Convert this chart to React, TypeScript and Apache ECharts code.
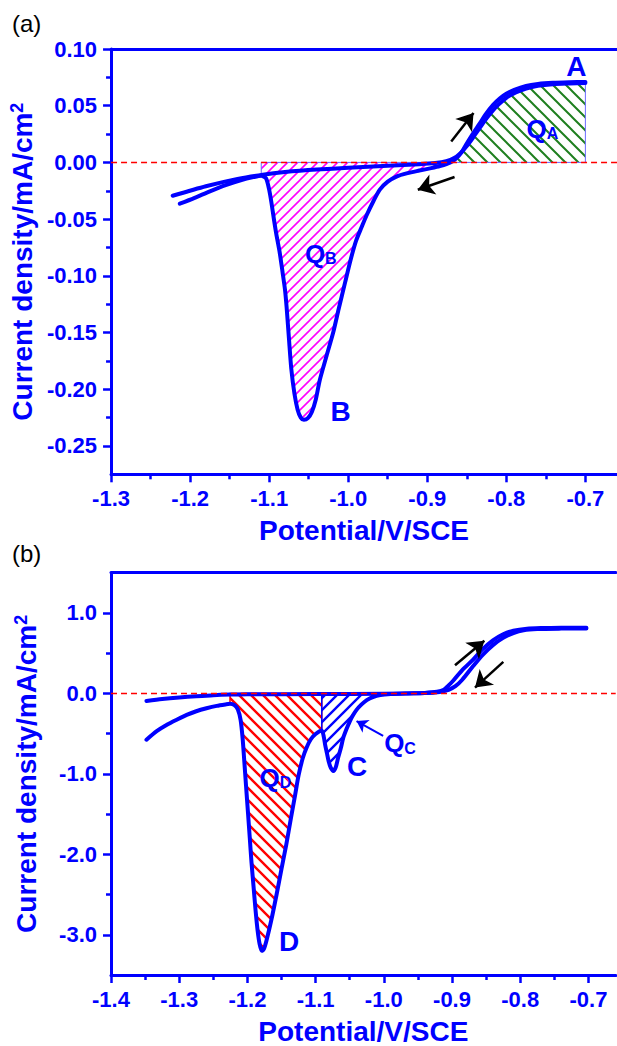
import React, { useEffect, useRef } from 'react';
import * as echarts from 'echarts';

const BLUE = '#0000ff';
const FONT = '"Liberation Sans", Arial, Helvetica, sans-serif';

// ---------- Panel (a) ----------
const xMinA = -1.3;
const xMaxA = -0.66;
const yMinA = -0.275;
const yMaxA = 0.1;
const xTicksA = [-1.3, -1.2, -1.1, -1.0, -0.9, -0.8, -0.7];
const xMinorA = [-1.25, -1.15, -1.05, -0.95, -0.85, -0.75];
const yTicksA = [-0.25, -0.2, -0.15, -0.1, -0.05, 0, 0.05, 0.1];
const yMinorA = [-0.225, -0.175, -0.125, -0.075, -0.025, 0.025, 0.075];

// return sweep (upper branch near zero)
const curveA1: number[][] = [
  [-0.700, 0.0700], [-0.720, 0.0696], [-0.741, 0.0690], [-0.760, 0.0676], [-0.775, 0.0652],
  [-0.788, 0.0617], [-0.800, 0.0570], [-0.810, 0.0510], [-0.818, 0.0450], [-0.826, 0.0380],
  [-0.834, 0.0300], [-0.842, 0.0220], [-0.850, 0.0145], [-0.858, 0.0082], [-0.866, 0.0038],
  [-0.876, 0.0010], [-0.890, -0.0006], [-0.910, -0.0016], [-0.950, -0.0030], [-1.000, -0.0048],
  [-1.040, -0.0063], [-1.080, -0.0085], [-1.108, -0.0108], [-1.140, -0.0145], [-1.180, -0.0210],
  [-1.222, -0.0294],
];

// forward sweep with peak B
const curveA2: number[][] = [
  [-1.213, -0.0364], [-1.195, -0.0315], [-1.175, -0.0255], [-1.155, -0.0200], [-1.135, -0.0155],
  [-1.120, -0.0130], [-1.110, -0.0118], [-1.104, -0.0140], [-1.100, -0.0240], [-1.097, -0.0360],
  [-1.094, -0.0500], [-1.091, -0.0630], [-1.087, -0.0780], [-1.083, -0.0970], [-1.080, -0.1120],
  [-1.078, -0.1270], [-1.075, -0.1550], [-1.072, -0.1820], [-1.068, -0.2040], [-1.064, -0.2180],
  [-1.060, -0.2250], [-1.056, -0.2270], [-1.051, -0.2255], [-1.046, -0.2200], [-1.041, -0.2090],
  [-1.036, -0.1920], [-1.028, -0.1720], [-1.019, -0.1500], [-1.012, -0.1290], [-1.004, -0.1060],
  [-0.997, -0.0860], [-0.990, -0.0690], [-0.983, -0.0570], [-0.977, -0.0470], [-0.968, -0.0340],
  [-0.960, -0.0240], [-0.950, -0.0170], [-0.939, -0.0125], [-0.925, -0.0095], [-0.910, -0.0072],
  [-0.895, -0.0050], [-0.884, -0.0032], [-0.875, -0.0012], [-0.868, 0.0010], [-0.862, 0.0045],
  [-0.856, 0.0095], [-0.851, 0.0155], [-0.843, 0.0245], [-0.834, 0.0340], [-0.826, 0.0425],
  [-0.817, 0.0505], [-0.808, 0.0565], [-0.800, 0.0605], [-0.790, 0.0640], [-0.775, 0.0675],
  [-0.760, 0.0692], [-0.741, 0.0702], [-0.720, 0.0707], [-0.700, 0.0710],
];

const qbLeftA = -1.11;
const qbRightA = -0.868;
const qaRightA = -0.7;

const arrowsA: number[][][] = [
  [[-0.8697, 0.0185], [-0.8415, 0.0436]],
  [[-0.8655, -0.0129], [-0.9120, -0.0241]],
];

const labelsA = [
  { x: -0.7114, y: 0.0844, t: 'A' },
  { x: -1.0095, y: -0.2198, t: 'B' },
  { x: -1.0347, y: -0.0805, t: '{q|Q}{s|B}' },
  { x: -0.7543, y: 0.0297, t: '{q|Q}{s|A}' },
];

// ---------- Panel (b) ----------
const xMinB = -1.4;
const xMaxB = -0.66;
const yMinB = -3.5;
const yMaxB = 1.5;
const xTicksB = [-1.4, -1.3, -1.2, -1.1, -1.0, -0.9, -0.8, -0.7];
const xMinorB = [-1.35, -1.25, -1.15, -1.05, -0.95, -0.85, -0.75];
const yTicksB = [-3, -2, -1, 0, 1];
const yMinorB = [-2.5, -1.5, -0.5, 0.5];

const curveB1: number[][] = [
  [-0.703, 0.806], [-0.740, 0.805], [-0.775, 0.800], [-0.795, 0.785], [-0.810, 0.750],
  [-0.825, 0.690], [-0.840, 0.600], [-0.855, 0.480], [-0.869, 0.340], [-0.885, 0.170],
  [-0.895, 0.090], [-0.905, 0.045], [-0.918, 0.018], [-0.940, 0.004], [-1.000, -0.004],
  [-1.100, -0.008], [-1.200, -0.012], [-1.225, -0.015], [-1.250, -0.022], [-1.275, -0.035],
  [-1.300, -0.050], [-1.325, -0.070], [-1.348, -0.095],
];

const curveB2: number[][] = [
  [-1.348, -0.576], [-1.333, -0.470], [-1.318, -0.390], [-1.303, -0.325], [-1.289, -0.268],
  [-1.275, -0.222], [-1.260, -0.185], [-1.245, -0.155], [-1.232, -0.137], [-1.2255, -0.130],
  [-1.219, -0.145], [-1.214, -0.200], [-1.210, -0.330], [-1.207, -0.560], [-1.2045, -0.850],
  [-1.202, -1.150], [-1.199, -1.500], [-1.1965, -1.800], [-1.194, -2.100], [-1.191, -2.400],
  [-1.188, -2.700], [-1.185, -2.950], [-1.182, -3.120], [-1.179, -3.200], [-1.176, -3.180],
  [-1.172, -3.070], [-1.165, -2.820], [-1.157, -2.490], [-1.150, -2.180], [-1.143, -1.880],
  [-1.136, -1.540], [-1.130, -1.260], [-1.125, -1.020], [-1.119, -0.810], [-1.113, -0.670],
  [-1.107, -0.570], [-1.100, -0.505], [-1.091, -0.460], [-1.088, -0.540], [-1.086, -0.640],
  [-1.0835, -0.740], [-1.081, -0.840], [-1.078, -0.920], [-1.074, -0.965], [-1.0705, -0.920],
  [-1.067, -0.800], [-1.063, -0.680], [-1.0595, -0.555], [-1.055, -0.450], [-1.050, -0.350],
  [-1.045, -0.270], [-1.040, -0.205], [-1.033, -0.140], [-1.025, -0.083], [-1.016, -0.045],
  [-1.005, -0.020], [-0.990, -0.008], [-0.965, 0.000], [-0.940, 0.006], [-0.922, 0.020],
  [-0.912, 0.045], [-0.905, 0.100], [-0.898, 0.160], [-0.885, 0.290], [-0.869, 0.420],
  [-0.855, 0.550], [-0.840, 0.660], [-0.825, 0.735], [-0.810, 0.780], [-0.790, 0.805],
  [-0.770, 0.812], [-0.740, 0.815], [-0.703, 0.815],
];

const qdLeftB = -1.2255;
const qdRightB = -1.091;
const qcRightB = -0.99;

const arrowsB: number[][][] = [
  [[-0.8956, 0.349], [-0.8526, 0.655]],
  [[-0.8248, 0.391], [-0.8663, 0.072]],
];
const pointerB: number[][][] = [[[-1.001, -0.528], [-1.040, -0.344]]];

const labelsB = [
  { x: -1.139, y: -3.083, t: 'D' },
  { x: -1.0393, y: -0.904, t: 'C' },
  { x: -0.9762, y: -0.622, t: '{q|Q}{s|C}' },
  { x: -1.1588, y: -1.051, t: '{q|Q}{s|D}' },
];

// ---------- helpers ----------
function makeHatch(color: string, size: number, width: number, forward: boolean) {
  const c = document.createElement('canvas');
  c.width = size;
  c.height = size;
  const ctx = c.getContext('2d')!;
  ctx.strokeStyle = color;
  ctx.lineWidth = width;
  ctx.beginPath();
  if (forward) {
    ctx.moveTo(0, size); ctx.lineTo(size, 0);
    ctx.moveTo(-size / 2, size / 2); ctx.lineTo(size / 2, -size / 2);
    ctx.moveTo(size / 2, size * 1.5); ctx.lineTo(size * 1.5, size / 2);
  } else {
    ctx.moveTo(0, 0); ctx.lineTo(size, size);
    ctx.moveTo(-size / 2, size / 2); ctx.lineTo(size / 2, size * 1.5);
    ctx.moveTo(size / 2, -size / 2); ctx.lineTo(size * 1.5, size / 2);
  }
  ctx.stroke();
  return { image: c, repeat: 'repeat', imageWidth: size, imageHeight: size };
}

function region(curve: number[][], x0: number, x1: number): number[][] {
  const inner = curve.filter((p) => p[0] >= x0 - 1e-9 && p[0] <= x1 + 1e-9);
  return [[x0, 0], ...inner, [x1, 0]];
}

function polySeries(pts: number[][], xi: number, yi: number, fill: any, stroke: string, lw: number) {
  return {
    type: 'custom',
    xAxisIndex: xi,
    yAxisIndex: yi,
    z: 1,
    silent: true,
    data: [pts[1]],
    renderItem: (_params: any, api: any) => ({
      type: 'polygon',
      shape: { points: pts.map((p) => api.coord(p)) },
      style: { fill, stroke, lineWidth: lw },
    }),
  };
}

function curveSeries(data: number[][], xi: number, yi: number) {
  return {
    type: 'line',
    xAxisIndex: xi,
    yAxisIndex: yi,
    data,
    showSymbol: false,
    smooth: 0.25,
    z: 3,
    silent: true,
    lineStyle: { color: BLUE, width: 4, join: 'round', cap: 'round' },
  };
}

function zeroSeries(x0: number, x1: number, xi: number, yi: number) {
  return {
    type: 'line',
    xAxisIndex: xi,
    yAxisIndex: yi,
    data: [[x0, 0], [x1, 0]],
    showSymbol: false,
    z: 4,
    silent: true,
    lineStyle: { color: '#ff0000', width: 1.5, type: [6, 4] },
  };
}

function arrowSeries(list: number[][][], xi: number, yi: number, color: string, width: number, size: number) {
  return {
    type: 'lines',
    coordinateSystem: 'cartesian2d',
    xAxisIndex: xi,
    yAxisIndex: yi,
    z: 5,
    silent: true,
    symbol: ['none', 'arrow'],
    symbolSize: [0, size],
    lineStyle: { color, width, opacity: 1, curveness: 0 },
    data: list.map((c) => ({ coords: c })),
  };
}

function labelSeries(list: { x: number; y: number; t: string }[], xi: number, yi: number) {
  return {
    type: 'scatter',
    xAxisIndex: xi,
    yAxisIndex: yi,
    z: 6,
    silent: true,
    symbolSize: 1,
    itemStyle: { color: '#ffffff', opacity: 0 },
    data: list.map((l) => ({ value: [l.x, l.y], name: l.t })),
    label: {
      show: true,
      position: 'inside',
      opacity: 1,
      formatter: (p: any) => p.name,
      color: BLUE,
      fontFamily: FONT,
      fontWeight: 'bold',
      fontSize: 28,
      rich: {
        q: { fontSize: 26, fontWeight: 'bold', color: BLUE, fontFamily: FONT },
        s: { fontSize: 16, fontWeight: 'bold', color: BLUE, fontFamily: FONT, verticalAlign: 'bottom' },
      },
    },
  };
}

const tickLabelStyle = {
  color: BLUE,
  fontSize: 22,
  fontWeight: 'bold',
  fontFamily: FONT,
};

function xAxesFor(grid: number, min: number, max: number, ticks: number[], minor: number[]) {
  return [
    {
      type: 'value', gridIndex: grid, min, max, position: 'bottom',
      axisLine: { show: true, onZero: false, lineStyle: { color: BLUE, width: 3 } },
      axisTick: { show: true, customValues: ticks, length: 8, lineStyle: { color: BLUE, width: 2.5 } },
      axisLabel: { show: true, customValues: ticks, formatter: (v: number) => v.toFixed(1), margin: 13, ...tickLabelStyle },
      splitLine: { show: false },
      name: 'Potential/V/SCE',
      nameLocation: 'middle',
      nameGap: 42,
      nameTextStyle: { color: BLUE, fontSize: 28, fontWeight: 'bold', fontFamily: FONT },
    },
    {
      type: 'value', gridIndex: grid, min, max, position: 'bottom',
      axisLine: { show: false, onZero: false },
      axisTick: { show: true, customValues: minor, length: 5, lineStyle: { color: BLUE, width: 2.5 } },
      axisLabel: { show: false },
      splitLine: { show: false },
    },
    {
      type: 'value', gridIndex: grid, min, max, position: 'top',
      axisLine: { show: true, onZero: false, lineStyle: { color: BLUE, width: 3 } },
      axisTick: { show: false },
      axisLabel: { show: false },
      splitLine: { show: false },
    },
  ];
}

function yAxesFor(grid: number, min: number, max: number, ticks: number[], minor: number[], digits: number) {
  return [
    {
      type: 'value', gridIndex: grid, min, max, position: 'left',
      axisLine: { show: true, onZero: false, lineStyle: { color: BLUE, width: 3 } },
      axisTick: { show: true, customValues: ticks, length: 8, lineStyle: { color: BLUE, width: 2.5 } },
      axisLabel: { show: true, customValues: ticks, formatter: (v: number) => v.toFixed(digits), margin: 14, ...tickLabelStyle },
      splitLine: { show: false },
      name: 'Current density/mA/cm{sup|2}',
      nameLocation: 'middle',
      nameGap: 71,
      nameTextStyle: {
        color: BLUE, fontSize: 28, fontWeight: 'bold', fontFamily: FONT,
        rich: { sup: { fontSize: 18, fontWeight: 'bold', color: BLUE, fontFamily: FONT, verticalAlign: 'top' } },
      },
    },
    {
      type: 'value', gridIndex: grid, min, max, position: 'left',
      axisLine: { show: false, onZero: false },
      axisTick: { show: true, customValues: minor, length: 5, lineStyle: { color: BLUE, width: 2.5 } },
      axisLabel: { show: false },
      splitLine: { show: false },
    },
  ];
}

export default function App() {
  const ref = useRef<HTMLDivElement>(null);
  useEffect(() => {
    if (!ref.current) return;
    const chart = echarts.init(ref.current, null, { renderer: 'svg' });

    const pink = makeHatch('#ff00ff', 10, 1.6, true);
    const green = makeHatch('#1f7f1f', 13, 2, false);
    const red = makeHatch('#ff0000', 12, 2.4, false);
    const blue = makeHatch('#0000ff', 12, 2.4, true);

    const qb = region(curveA2, qbLeftA, qbRightA);
    const qa = region(curveA2, qbRightA, qaRightA);
    const qd = region(curveB2, qdLeftB, qdRightB);
    const qc = region(curveB2, qdRightB, qcRightB);

    const option: any = {
      animation: false,
      backgroundColor: '#ffffff',
      grid: [
        { left: 111, top: 49, width: 506.7, height: 425.3 },
        { left: 111, top: 572.7, width: 504.7, height: 408.3 },
      ],
      xAxis: [
        ...xAxesFor(0, xMinA, xMaxA, xTicksA, xMinorA),
        ...xAxesFor(1, xMinB, xMaxB, xTicksB, xMinorB),
      ],
      yAxis: [
        ...yAxesFor(0, yMinA, yMaxA, yTicksA, yMinorA, 2),
        ...yAxesFor(1, yMinB, yMaxB, yTicksB, yMinorB, 1),
      ],
      graphic: [
        { type: 'text', left: 12, top: 11, style: { text: '(a)', fontSize: 24, fontFamily: FONT, fill: '#000' } },
        { type: 'text', left: 12, top: 541, style: { text: '(b)', fontSize: 24, fontFamily: FONT, fill: '#000' } },
      ],
      series: [
        polySeries(qb, 0, 0, pink, '#6a6aff', 1),
        polySeries(qa, 0, 0, green, '#6a6aff', 1),
        curveSeries(curveA1, 0, 0),
        curveSeries(curveA2, 0, 0),
        zeroSeries(xMinA, xMaxA, 0, 0),
        arrowSeries(arrowsA, 0, 0, '#000000', 2.5, 16),
        labelSeries(labelsA, 0, 0),

        polySeries(qd, 3, 2, red, '#ff0000', 1.5),
        polySeries(qc, 3, 2, blue, '#0000ff', 1.5),
        curveSeries(curveB1, 3, 2),
        curveSeries(curveB2, 3, 2),
        zeroSeries(xMinB, xMaxB, 3, 2),
        arrowSeries(arrowsB, 3, 2, '#000000', 2.5, 16),
        arrowSeries(pointerB, 3, 2, BLUE, 2, 11),
        labelSeries(labelsB, 3, 2),
      ],
    };
    chart.setOption(option);
    return () => chart.dispose();
  }, []);

  return (
    <div
      ref={ref}
      style={{ position: 'absolute', left: 0, top: 0, width: 617, height: 1046, background: '#fff' }}
    />
  );
}
